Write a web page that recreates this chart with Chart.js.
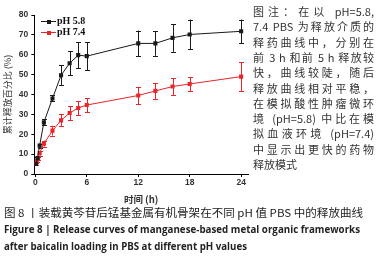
<!DOCTYPE html>
<html lang="zh"><head><meta charset="utf-8">
<script src="https://cdn.jsdelivr.net/npm/chart.js@4"></script>
<style>
html,body{margin:0;padding:0;background:#fff;width:378px;height:257px;overflow:hidden;}
#wrap{position:absolute;left:0;top:0;width:252px;height:205px;}
.note{position:absolute;left:253px;width:121px;font-family:"Noto Sans CJK SC","Noto Sans",sans-serif;font-size:11px;color:#333;line-height:14px;height:14px;text-align:justify;text-align-last:justify;overflow:visible;}
.note.last{text-align-last:left;}
.cap{position:absolute;left:4px;white-space:nowrap;line-height:14px;transform-origin:0 50%;color:#222;}
.cap1{font-family:"Noto Sans CJK SC",sans-serif;font-size:11px;}
.cap2{font-family:"Open Sans","Liberation Sans",sans-serif;font-weight:bold;font-size:11px;}
.leg{position:absolute;left:40px;height:10px;width:80px;}
.leg .ln{position:absolute;left:1px;top:5px;width:15px;height:1px;}
.leg .sq{position:absolute;left:6.5px;top:3.5px;width:4px;height:4px;}
.leg .tx{position:absolute;left:17px;top:-1px;font-family:"Liberation Serif",serif;font-weight:bold;font-size:10px;line-height:12px;color:#111;white-space:nowrap;}
</style></head>
<body>
<div id="wrap"><canvas id="c"></canvas></div>
<div class="leg" style="top:16px"><div class="ln" style="background:#1a1a1a"></div><div class="sq" style="background:#1a1a1a"></div><div class="tx">pH 5.8</div></div>
<div class="leg" style="top:27px"><div class="ln" style="background:#e8262a"></div><div class="sq" style="background:#e8262a"></div><div class="tx">pH 7.4</div></div>
<div id="notes"></div>
<div id="caps"></div>
<script>
const times58 = [0.08,0.25,0.5,1,2,3,4,5,6,12,14,16,18,24];
const rel58   = [5,8,14.3,26,38,49.7,55.7,59.8,59.3,65.7,65.7,68.5,70.2,71.8];
const err58   = [0.5,0.8,1,1.5,1.5,5,6,6.5,7,6.5,6.2,7,7.5,5.9];
const times74 = [0.08,0.17,0.33,0.5,1,2,3,4,5,6,12,14,16,18,24];
const rel74   = [5,6.3,8,10.5,15.3,21.8,27,30.7,33.2,34.7,39.5,41.8,44,45.3,49];
const err74   = [0.5,0.5,0.8,1.2,1.5,2.5,3,3.5,3.5,3.5,4.3,4,4.3,3.5,7.2];
const seriesNames = ['pH 5.8','pH 7.4'];
const xTicks = [0,6,12,18,24];
const yTicks = [0,10,20,30,40,50,60,70,80];
const xTitle = '时间 (h)';
const yTitle = '累计释放百分比 (%)';
const noteLines = ['图注：在以 pH=5.8,','7.4 PBS 为释放介质的','释药曲线中，分别在','前 3 h 和前 5 h 释放较','快，曲线较陡，随后','释放曲线相对平稳，','在模拟酸性肿瘤微环','境 (pH=5.8) 中比在模','拟血液环境 (pH=7.4)','中显示出更快的药物','释放模式'];
const captionLines = ['图 8 丨装载黄芩苷后锰基金属有机骨架在不同 pH 值 PBS 中的释放曲线','Figure 8 |  Release curves of manganese-based metal organic frameworks','after baicalin loading in PBS at different pH values'];

const notes = document.getElementById('notes');
noteLines.forEach((t,i)=>{
  const d=document.createElement('div');
  d.className='note'+(i===noteLines.length-1?' last':'');
  d.style.top=(4+i*15.3)+'px';
  d.textContent=t; notes.appendChild(d);
});
const caps = document.getElementById('caps');
const capW=[359,356,243];
captionLines.forEach((t,i)=>{
  const d=document.createElement('div');
  d.className='cap '+(i===0?'cap1':'cap2');
  d.style.top=(205+i*17)+'px';
  d.textContent=t; caps.appendChild(d);
  const w=d.getBoundingClientRect().width;
  d.style.transform='scaleX('+(capW[i]/w)+')';
});

const colors=['#1a1a1a','#e8262a'];
const errs=[err58,err74];
const errorBars={
  id:'errorBars',
  beforeDatasetsDraw(chart){
    const ctx=chart.ctx, ys=chart.scales.y;
    chart.data.datasets.forEach((ds,di)=>{
      const meta=chart.getDatasetMeta(di);
      ctx.save(); ctx.strokeStyle=colors[di]; ctx.lineWidth=1;
      meta.data.forEach((pt,i)=>{
        const v=ds.data[i].y, e=errs[di][i];
        const y1=ys.getPixelForValue(v+e), y2=ys.getPixelForValue(v-e);
        const x=Math.round(pt.x)+0.5;
        ctx.beginPath();
        ctx.moveTo(x,y1);ctx.lineTo(x,y2);
        ctx.moveTo(x-2.5,Math.round(y1)+0.5);ctx.lineTo(x+2.5,Math.round(y1)+0.5);
        ctx.moveTo(x-2.5,Math.round(y2)+0.5);ctx.lineTo(x+2.5,Math.round(y2)+0.5);
        ctx.stroke();
      });
      ctx.restore();
    });
  }
};

const tickFont={family:'"Liberation Sans", Arial, sans-serif',size:8.5,weight:'bold'};
new Chart(document.getElementById('c'),{
  type:'line',
  data:{datasets:[
    {label:seriesNames[0],data:times58.map((t,i)=>({x:t,y:rel58[i]})),borderColor:colors[0],backgroundColor:colors[0],borderWidth:1,pointStyle:'rect',pointRadius:2.9,pointBorderWidth:0,tension:0},
    {label:seriesNames[1],data:times74.map((t,i)=>({x:t,y:rel74[i]})),borderColor:colors[1],backgroundColor:colors[1],borderWidth:1,pointStyle:'rect',pointRadius:2.9,pointBorderWidth:0,tension:0}
  ]},
  options:{
    responsive:true,maintainAspectRatio:false,animation:false,
    layout:{padding:{left:0,right:2,top:15,bottom:0}},
    plugins:{legend:{display:false},tooltip:{enabled:false}},
    scales:{
      x:{type:'linear',min:-0.12,max:24.8,
        afterBuildTicks:s=>{s.ticks=xTicks.map(v=>({value:v}));},
        afterFit:s=>{s.height=31;},
        grid:{display:true,drawOnChartArea:false,drawTicks:true,tickLength:3,color:'#000'},
        border:{color:'#000',width:1},
        ticks:{font:tickFont,color:'#333',padding:1,maxRotation:0,autoSkip:false},
        title:{display:true,text:xTitle,font:{family:'"Noto Sans CJK SC", sans-serif',size:9.5,weight:'bold'},color:'#333',padding:{top:0,bottom:0}}
      },
      y:{type:'linear',min:0,max:80,
        afterBuildTicks:s=>{s.ticks=yTicks.map(v=>({value:v}));},
        afterFit:s=>{s.width=34.3;},
        grid:{display:true,drawOnChartArea:false,drawTicks:true,tickLength:3,color:'#000'},
        border:{color:'#000',width:1},
        ticks:{font:tickFont,color:'#333',padding:3},
        title:{display:true,text:yTitle,font:{family:'"Noto Sans CJK SC", sans-serif',size:9},color:'#333',padding:{top:2,bottom:0}}
      }
    }
  },
  plugins:[errorBars]
});
</script>
</body></html>
